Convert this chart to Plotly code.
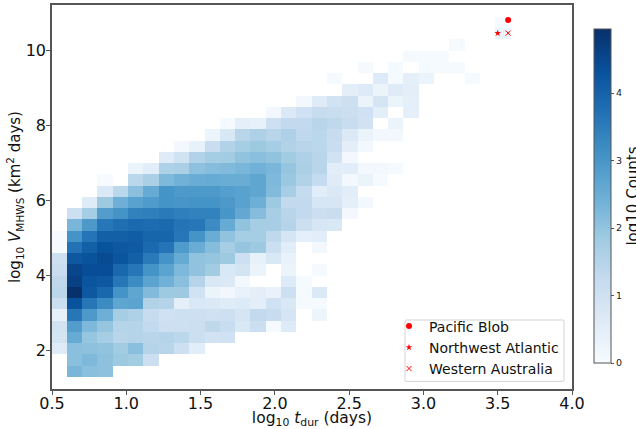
import plotly.graph_objects as go

N = None
# log10 counts per bin; each list is one row of the 2-D histogram, bottom row first
r00 = [N,2.3,2.1,2.05]
r01 = [N,2.1,2.25,2.05,1.85,1.8,1.1]
r02 = [.6,2.1,2.05,2.0,1.8,2.1,1.5,1.45,1.05,.55]
r03 = [.9,2.55,1.95,1.75,1.45,1.5,1.45,1.5,1.4,1.1,.95,1.0]
r04 = [.95,2.85,2.25,1.95,1.5,1.5,1.3,1.05,1.05,1.1,1.35,1.15,.75,1.1,.05,.65]
r05 = [.4,3.6,2.95,2.45,1.75,1.6,1.2,1.0,1.05,1.05,1.0,1.05,.85,1.3,1.2,.85,N,.25]
r06 = [1.1,4.3,3.6,3.2,2.65,2.7,1.55,1.5,.45,.75,.7,.6,.65,.5,1.0,.75,.05,.05]
r07 = [1.4,4.95,4.2,3.9,3.05,2.65,2.2,1.85,1.85,.95,.3,.15,.35,.5,.35,1.05,.05,.7]
r08 = [1.35,4.65,4.25,4.2,3.6,3.2,2.7,2.4,2.1,1.5,.75,.7,.1,N,N,.65,.05]
r09 = [1.15,4.55,4.4,4.4,3.9,3.6,3.05,2.7,2.25,2.0,1.8,.75,.9,.3,N,.3,N,.05]
r10 = [1.05,4.2,4.3,4.45,4.25,4.05,3.55,3.05,2.55,2.0,1.95,1.85,1.05,.4,.75,.35]
r11 = [0,3.7,4.05,4.3,4.2,4.15,3.85,3.65,2.9,2.5,2.15,1.75,1.95,1.85,1.1,.55,N,.1]
r12 = [0,3.05,3.65,4.05,4.05,4.1,3.95,3.95,3.6,3.05,2.5,2.0,1.75,1.75,1.35,.85,.45,.55]
r13 = [N,2.3,2.95,3.6,3.75,3.85,3.8,3.85,3.65,3.6,3.2,2.55,2.0,1.75,1.7,1.5,1.1,.8,.75]
r14 = [N,1.05,1.75,2.85,3.05,3.4,3.45,3.55,3.45,3.4,3.4,3.0,2.6,2.15,1.7,1.45,1.3,1.1,1.15,.1]
r15 = [N,N,.6,1.85,2.45,2.75,2.9,3.05,3.0,3.05,3.05,2.95,2.75,2.45,1.85,1.3,1.3,.8,.8,.45,.1]
r16 = [N,N,N,.7,1.4,2.1,2.55,3.05,2.95,2.95,2.95,2.8,2.75,2.65,2.2,1.7,1.25,.55,.7,.55]
r17 = [N,N,N,0,N,1.4,1.65,2.25,2.4,2.5,2.55,2.5,2.5,2.65,2.25,1.9,1.55,1.25,.6,.1,.3,.05]
r18 = [N,N,N,N,N,.3,.55,1.6,1.65,2.05,2.15,2.2,2.3,2.4,2.3,1.95,1.65,1.45,.55,.55,.1,.1,.05]
r19 = [N,N,N,N,N,N,N,.6,.95,1.55,1.75,1.8,2.0,2.1,2.0,1.8,1.6,1.45,.95,.1]
r20 = [N,N,N,N,N,N,N,N,.1,.4,1.15,1.55,1.75,1.85,1.75,1.55,1.45,1.4,1.15,.5,.1]
r21 = [N,N,N,N,N,N,N,N,N,N,.25,.75,1.45,1.6,1.45,1.6,1.35,1.4,1.2,.7,.3,.1,.1]
r22 = [N,N,N,N,N,N,N,N,N,N,N,.05,.45,.4,1.05,1.3,1.3,1.45,1.35,1.15,.95,N,.3]
r23 = [N,N,N,N,N,N,N,N,N,N,N,N,N,N,.1,.7,1.0,1.2,1.15,1.1,1.0,.5,N,.45]
r24 = [N,N,N,N,N,N,N,N,N,N,N,N,N,N,N,N,.1,.6,.95,1.05,.3,.85,.3,.45]
r25 = [N,N,N,N,N,N,N,N,N,N,N,N,N,N,N,N,N,N,N,.5,.65,.3,.6,.5]
r26 = [N,N,N,N,N,N,N,N,N,N,N,N,N,N,N,N,N,N,.05,N,N,.65,.05,.45,.3,N,N,.05]
r27 = [N,N,N,N,N,N,N,N,N,N,N,N,N,N,N,N,N,N,N,N,.05,N,.05,N,.05,.05,.05]
r28 = [N,N,N,N,N,N,N,N,N,N,N,N,N,N,N,N,N,N,N,N,N,N,N,.05,.05,.05]
r29 = [N,N,N,N,N,N,N,N,N,N,N,N,N,N,N,N,N,N,N,N,N,N,N,N,N,N,.05]
r30 = [N,N,N,N,N,N,N,N,N,N,N,N,N,N,N,N,N,N,N,N,N,N,N,N,N,N,N,N,N,.3]
r31 = [N,N,N,N,N,N,N,N,N,N,N,N,N,N,N,N,N,N,N,N,N,N,N,N,N,N,N,N,N,.05]
rows = [r00,r01,r02,r03,r04,r05,r06,r07,r08,r09,r10,r11,r12,r13,r14,r15,
        r16,r17,r18,r19,r20,r21,r22,r23,r24,r25,r26,r27,r28,r29,r30,r31]
z = [r + [N] * (30 - len(r)) for r in rows]

event_names = ["Pacific Blob", "Northwest Atlantic", "Western Australia"]
event_x = [3.57, 3.50, 3.57]
event_y = [10.80, 10.45, 10.45]
event_symbols = ["circle", "star", "x-thin"]
event_sizes = [6, 5, 5]

blues = [[0, "#f7fbff"], [.125, "#deebf7"], [.25, "#c6dbef"], [.375, "#9ecae1"],
         [.5, "#6baed6"], [.625, "#4292c6"], [.75, "#2171b5"], [.875, "#08519c"], [1, "#08306b"]]

FONT = "DejaVu Sans"
DARK = "#555555"

fig = go.Figure()
fig.add_trace(go.Heatmap(
    z=z, x0=0.5485, dx=0.1029, y0=1.44, dy=0.2997,
    colorscale=blues, zmin=0, zmax=4.95, showscale=True, hoverongaps=False,
    colorbar=dict(
        x=1.0423, xanchor="left", xpad=0, y=0.0677, yanchor="bottom", ypad=0,
        lenmode="pixels", len=334, thicknessmode="pixels", thickness=17,
        outlinecolor=DARK, outlinewidth=1,
        tickmode="array", tickvals=[0, 1, 2, 3, 4], ticks="outside", ticklen=3,
        tickcolor=DARK, tickfont=dict(size=9.5, family=FONT, color="#222222"),
        title=dict(text="log10 Counts", side="right",
                   font=dict(size=15, family=FONT, color="#111111")),
    ),
))
for name, x, y, s, sz in zip(event_names, event_x, event_y, event_symbols, event_sizes):
    marker = dict(color="red", symbol=s, size=sz)
    if s == "x-thin":
        marker["line"] = dict(color="red", width=1)
    fig.add_trace(go.Scatter(x=[x], y=[y], mode="markers", name=name, marker=marker))

axis = dict(showgrid=False, zeroline=False, showline=True, mirror=True, linecolor=DARK,
            linewidth=1.5, ticks="outside", ticklen=4, tickcolor=DARK,
            tickfont=dict(size=16, family=FONT, color="#111111"))
legend_frame = ("M 0.6808,0.0198 L 0.9827,0.0198 Q 0.9846,0.0198 0.9846,0.0250 L 0.9846,0.1745 "
                "Q 0.9846,0.1797 0.9827,0.1797 L 0.6808,0.1797 Q 0.6788,0.1797 0.6788,0.1745 "
                "L 0.6788,0.0250 Q 0.6788,0.0198 0.6808,0.0198 Z")
fig.update_layout(
    width=636, height=429, margin=dict(l=52, r=64, t=5, b=40, autoexpand=False),
    paper_bgcolor="white", plot_bgcolor="white",
    font=dict(family=FONT, color="#111111"),
    xaxis=dict(axis, range=[0.5, 4.0], tickvals=[.5, 1, 1.5, 2, 2.5, 3, 3.5, 4],
               ticktext=["0.5", "1.0", "1.5", "2.0", "2.5", "3.0", "3.5", "4.0"],
               ticklabelstandoff=-5,
               title=dict(text="log<sub>10</sub> <i>t</i><sub>dur</sub> (days)",
                          font=dict(size=15.5, family=FONT), standoff=2)),
    yaxis=dict(axis, range=[0.96, 11.2], tickvals=[2, 4, 6, 8, 10], ticklabelstandoff=-3,
               title=dict(text="log<sub>10</sub> <i>V</i><sub>MHWS</sub> (km<sup>2</sup> days)",
                          font=dict(size=15, family=FONT), standoff=1)),
    legend=dict(x=(389 - 52) / 520, xanchor="left", y=4.5 / 384, yanchor="bottom",
                bgcolor="rgba(0,0,0,0)", borderwidth=0,
                font=dict(size=14, family=FONT, color="#111111")),
    shapes=[dict(type="path", xref="paper", yref="paper", path=legend_frame, layer="above",
                 fillcolor="white", line=dict(color="#d4d4d4", width=1))],
)
fig.write_html("out.html", config={"displayModeBar": False},
               post_script="document.body.style.margin='0';document.documentElement.style.overflow='hidden';")
